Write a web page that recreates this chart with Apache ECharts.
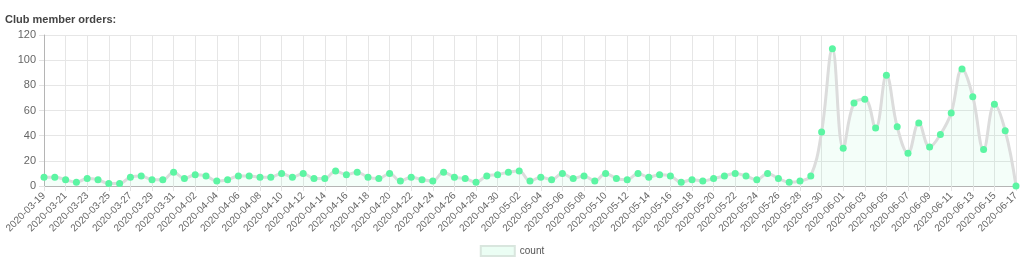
<!DOCTYPE html>
<html>
<head>
<meta charset="utf-8">
<script src="https://cdn.jsdelivr.net/npm/echarts@6/dist/echarts.min.js"></script>
<style>
html,body{margin:0;padding:0;background:#fff;}
#chart{width:1024px;height:274px;}
</style>
</head>
<body>
<div id="chart"></div>
<script>
const titleText = 'Club member orders:';
const seriesName = 'count';
const dates = [
'2020-03-19','2020-03-20','2020-03-21','2020-03-22','2020-03-23','2020-03-24','2020-03-25','2020-03-26','2020-03-27','2020-03-28','2020-03-29','2020-03-30','2020-03-31',
'2020-04-01','2020-04-02','2020-04-03','2020-04-04','2020-04-05','2020-04-06','2020-04-07','2020-04-08','2020-04-09','2020-04-10',
'2020-04-11','2020-04-12','2020-04-13','2020-04-14','2020-04-15','2020-04-16','2020-04-17','2020-04-18','2020-04-19','2020-04-20',
'2020-04-21','2020-04-22','2020-04-23','2020-04-24','2020-04-25','2020-04-26','2020-04-27','2020-04-28','2020-04-29','2020-04-30',
'2020-05-01','2020-05-02','2020-05-03','2020-05-04','2020-05-05','2020-05-06','2020-05-07','2020-05-08','2020-05-09','2020-05-10',
'2020-05-11','2020-05-12','2020-05-13','2020-05-14','2020-05-15','2020-05-16','2020-05-17','2020-05-18','2020-05-19','2020-05-20',
'2020-05-21','2020-05-22','2020-05-23','2020-05-24','2020-05-25','2020-05-26','2020-05-27','2020-05-28','2020-05-29','2020-05-30','2020-05-31',
'2020-06-01','2020-06-02','2020-06-03','2020-06-04','2020-06-05','2020-06-06','2020-06-07','2020-06-08','2020-06-09','2020-06-10',
'2020-06-11','2020-06-12','2020-06-13','2020-06-14','2020-06-15','2020-06-16','2020-06-17'
];
const counts = [
7,7,5,3,6,5,2,2,7,8,5,5,11,6,9,8,4,5,8,8,7,7,10,
7,10,6,6,12,9,11,7,6,10,4,7,5,4,11,7,6,3,8,9,11,12,4,
7,5,10,6,8,4,10,6,5,10,7,9,8,3,5,4,6,8,10,8,5,10,6,3,
4,8,43,109,30,66,69,46,88,47,26,50,31,41,58,93,71,29,65,44,0
];
const yMin = 0, yMax = 120, yStep = 20;

const chart = echarts.init(document.getElementById('chart'), null, {renderer:'canvas'});
const FONT = '"Liberation Sans", Arial, Helvetica, sans-serif';
chart.setOption({
  animation:false,
  textStyle:{fontFamily:FONT},
  title:{
    text:titleText, left:0, top:9,
    textStyle:{fontFamily:FONT, fontSize:11, fontWeight:'bold', color:'#444'}
  },
  legend:{
    top:240, left:'center',
    itemWidth:34, itemHeight:10, itemGap:6,
    textStyle:{fontFamily:FONT, fontSize:10, color:'#555'},
    data:[{name:seriesName, icon:'rect', itemStyle:{color:'rgba(94,245,165,0.12)', borderColor:'#d9e6de', borderWidth:2}}]
  },
  grid:{left:44, right:8, top:35, bottom:88, containLabel:false},
  xAxis:{
    type:'category', boundaryGap:false, data:dates,
    axisLine:{show:true, lineStyle:{color:'#b5b5b5', width:1}},
    axisTick:{show:true, interval:1, length:5, lineStyle:{color:'#e2e2e2'}},
    axisLabel:{interval:1, rotate:45, fontSize:10, color:'#666', margin:8, fontFamily:FONT},
    splitLine:{show:true, interval:1, lineStyle:{color:'#e6e6e6', width:1}}
  },
  yAxis:{
    type:'value', min:yMin, max:yMax, interval:yStep,
    axisLine:{show:true, lineStyle:{color:'#b5b5b5', width:1}},
    axisTick:{show:true, length:5, lineStyle:{color:'#e2e2e2'}},
    axisLabel:{fontSize:11, color:'#666', margin:8, fontFamily:FONT},
    splitLine:{show:true, lineStyle:{color:'#e6e6e6', width:1}}
  },
  series:[{
    name:seriesName, type:'line', data:counts,
    smooth:0.4, showAllSymbol:true,
    symbol:'circle', symbolSize:7,
    itemStyle:{color:'#5cf5a3', borderWidth:0},
    lineStyle:{color:'#dcdcdc', width:3},
    areaStyle:{color:'rgba(94,245,165,0.1)'}
  }]
});
</script>
</body>
</html>
